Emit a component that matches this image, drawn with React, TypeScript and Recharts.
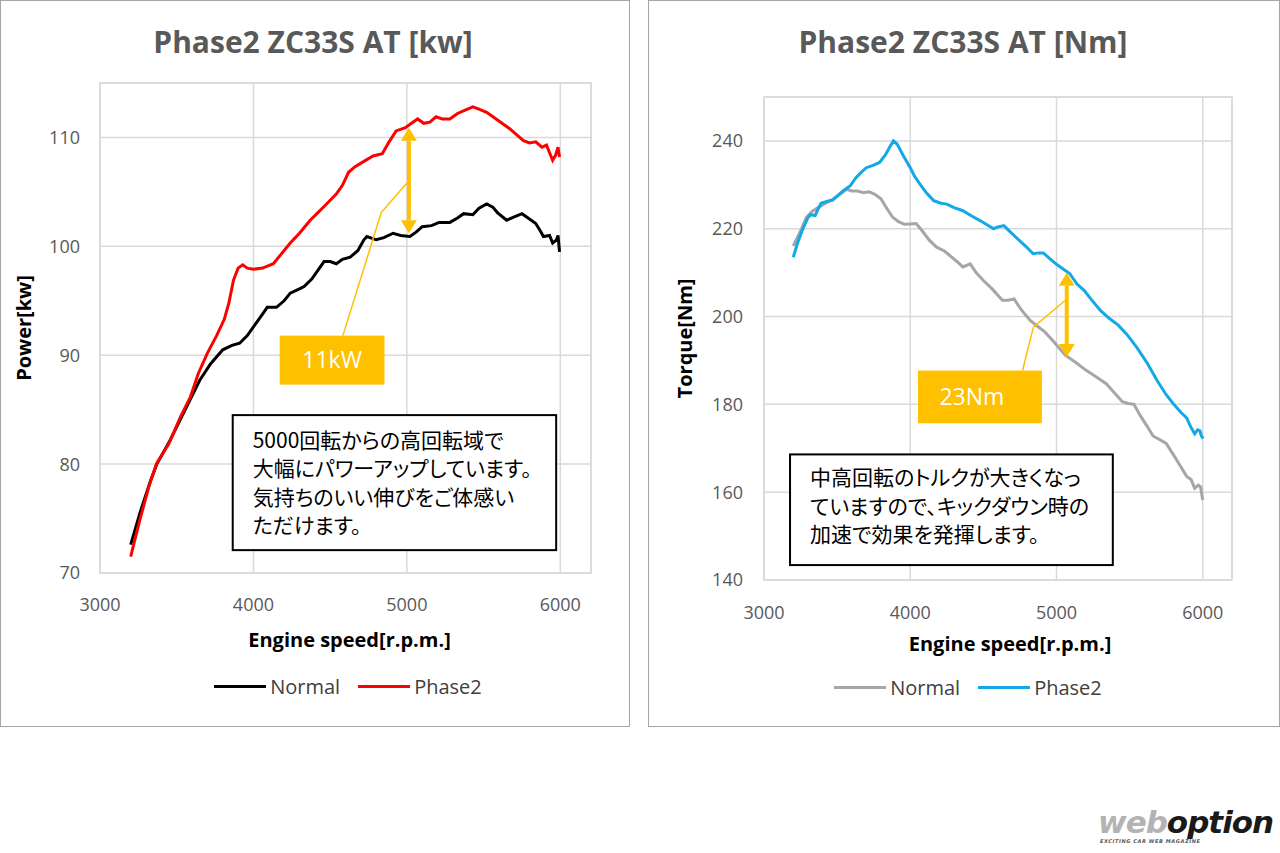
import {
  LineChart,
  Line,
  XAxis,
  YAxis,
  CartesianGrid,
  Legend,
  ReferenceArea,
  ReferenceLine,
} from 'recharts';

const FONT = '"Open Sans", "Noto Sans", sans-serif';
const JP_FONT = '"Noto Sans CJK JP", "Open Sans", sans-serif';
const GRID = '#d9d9d9';
const TICK = '#595959';
const YELLOW = '#ffc000';

const rpmTicks = [3000, 4000, 5000, 6000];
const kwTicks = [70, 80, 90, 100, 110];
const nmTicks = [140, 160, 180, 200, 220, 240];

// power [kW], Normal
const kwNormalRpm = [3200, 3260, 3330, 3370, 3450, 3520, 3590, 3650, 3720, 3800, 3860, 3910, 3960, 4000, 4050, 4090, 4150, 4200, 4240, 4300, 4330, 4380, 4420, 4460, 4500, 4540, 4580, 4630, 4680, 4720, 4740, 4800, 4850, 4910, 4960, 5020, 5060, 5100, 5160, 5210, 5280, 5330, 5370, 5430, 5470, 5520, 5560, 5590, 5650, 5700, 5750, 5790, 5840, 5870, 5890, 5930, 5950, 5975, 5985, 5995];
const kwNormal = [72.6, 75.5, 78.5, 80.0, 82.0, 84.0, 86.0, 87.7, 89.2, 90.5, 90.9, 91.1, 91.8, 92.6, 93.6, 94.4, 94.4, 95.0, 95.7, 96.1, 96.3, 97.0, 97.8, 98.6, 98.6, 98.4, 98.8, 99.0, 99.6, 100.6, 100.9, 100.6, 100.8, 101.2, 101.0, 100.9, 101.3, 101.8, 101.9, 102.2, 102.2, 102.6, 103.0, 102.9, 103.5, 103.9, 103.6, 103.1, 102.4, 102.7, 103.0, 102.6, 102.1, 101.4, 100.9, 101.0, 100.3, 100.6, 101.0, 99.5];

// power [kW], Phase2
const kwPhase2Rpm = [3200, 3260, 3320, 3370, 3450, 3520, 3590, 3640, 3700, 3760, 3810, 3840, 3870, 3900, 3930, 3960, 4000, 4060, 4130, 4170, 4240, 4300, 4370, 4420, 4470, 4540, 4580, 4620, 4660, 4720, 4780, 4840, 4880, 4930, 4990, 5030, 5070, 5110, 5150, 5190, 5230, 5280, 5330, 5380, 5430, 5470, 5520, 5570, 5620, 5670, 5720, 5760, 5800, 5840, 5880, 5910, 5930, 5950, 5970, 5985, 5995];
const kwPhase2 = [71.5, 74.9, 78.0, 80.1, 81.9, 84.2, 86.2, 88.3, 90.2, 91.8, 93.3, 94.8, 96.9, 98.0, 98.3, 98.0, 97.9, 98.0, 98.4, 99.1, 100.3, 101.2, 102.4, 103.1, 103.8, 104.8, 105.6, 106.8, 107.3, 107.8, 108.3, 108.5, 109.5, 110.6, 110.9, 111.3, 111.7, 111.3, 111.4, 111.9, 111.7, 111.7, 112.2, 112.5, 112.8, 112.6, 112.3, 111.8, 111.3, 110.8, 110.2, 109.7, 109.5, 109.6, 109.1, 109.3, 108.6, 107.9, 108.4, 109.1, 108.2];

// torque [Nm], Normal
const nmNormalRpm = [3200, 3250, 3290, 3330, 3370, 3420, 3460, 3510, 3565, 3600, 3640, 3680, 3720, 3760, 3800, 3840, 3880, 3920, 3960, 4000, 4040, 4080, 4130, 4180, 4230, 4270, 4320, 4360, 4410, 4450, 4500, 4560, 4630, 4670, 4710, 4760, 4820, 4870, 4920, 4980, 5060, 5130, 5200, 5270, 5340, 5400, 5450, 5490, 5530, 5570, 5620, 5660, 5710, 5750, 5800, 5850, 5890, 5920, 5945, 5970, 5985, 6000];
const nmNormal = [216.1, 219.5, 222.6, 224.0, 224.8, 225.8, 226.5, 227.6, 229.0, 228.6, 228.6, 228.2, 228.4, 227.8, 226.8, 224.6, 222.6, 221.6, 221.0, 221.1, 221.2, 219.6, 217.4, 215.8, 215.0, 213.9, 212.5, 211.3, 212.0, 210.0, 208.2, 206.3, 203.7, 203.7, 204.0, 201.5, 199.1, 197.8, 196.5, 194.3, 191.2, 189.6, 187.8, 186.3, 184.7, 182.5, 180.6, 180.2, 180.0, 177.6, 175.0, 172.8, 171.9, 171.1, 168.5, 165.8, 163.6, 162.9, 160.9, 161.6, 161.2, 158.2];

// torque [Nm], Phase2
const nmPhase2Rpm = [3200, 3230, 3260, 3300, 3320, 3350, 3370, 3390, 3440, 3470, 3500, 3540, 3590, 3630, 3670, 3700, 3750, 3790, 3830, 3860, 3885, 3910, 3950, 4000, 4030, 4070, 4110, 4160, 4210, 4250, 4300, 4360, 4420, 4480, 4530, 4570, 4600, 4640, 4680, 4740, 4790, 4840, 4880, 4910, 4950, 5000, 5050, 5090, 5140, 5190, 5240, 5300, 5360, 5420, 5480, 5550, 5620, 5690, 5750, 5800, 5850, 5890, 5920, 5945, 5965, 5980, 5990, 6003];
const nmPhase2 = [213.5, 216.8, 219.5, 222.5, 223.2, 223.0, 224.5, 225.8, 226.3, 226.5, 227.4, 228.6, 229.8, 231.7, 233.0, 233.9, 234.5, 235.1, 236.8, 238.6, 240.0, 239.3, 236.8, 233.9, 231.9, 230.0, 228.2, 226.4, 225.8, 225.6, 224.8, 224.1, 222.9, 221.8, 220.8, 220.0, 220.4, 220.7, 219.4, 217.5, 216.0, 214.3, 214.5, 214.5, 213.3, 211.9, 210.7, 209.8, 207.4, 205.9, 203.8, 201.4, 199.6, 198.1, 196.0, 192.9, 189.4, 185.3, 182.2, 180.1, 178.2, 176.9, 174.7, 173.3, 174.2, 174.0, 172.9, 172.2];

const kwNote = ['5000回転からの高回転域で', '大幅にパワーアップしています。', '気持ちのいい伸びをご体感い', 'ただけます。'];
const nmNote = ['中高回転のトルクが大きくなっ', 'ていますので、キックダウン時の', '加速で効果を発揮します。'];

const zip = (xs: number[], ys: number[]) => xs.map((rpm, i) => ({ rpm, v: ys[i] }));

// double headed arrow drawn on a ReferenceLine segment
const arrowShape = (props: any) => {
  const { x1, y1, x2, y2 } = props;
  const top = Math.min(y1, y2);
  const bot = Math.max(y1, y2);
  const h = 13;
  const w = 8;
  return (
    <g>
      <line x1={x1} y1={top + h} x2={x1} y2={bot - h} stroke={YELLOW} strokeWidth={4} />
      <polygon points={`${x1},${top} ${x1 - w},${top + h} ${x1 + w},${top + h}`} fill={YELLOW} />
      <polygon points={`${x1},${bot} ${x1 - w},${bot - h} ${x1 + w},${bot - h}`} fill={YELLOW} />
    </g>
  );
};

const gapBox = (text: string, dx: number) => (props: any) => {
  const { x, y, width, height } = props;
  return (
    <g>
      <rect x={x} y={y} width={width} height={height} fill={YELLOW} />
      <text
        x={x + width / 2 + dx}
        y={y + height / 2 + 8}
        textAnchor="middle"
        fill="#fff"
        fontFamily={FONT}
        fontSize={23}
      >
        {text}
      </text>
    </g>
  );
};

const noteBox = (lines: string[], padX: number, firstY: number, lineH: number) => (props: any) => {
  const { x, y, width, height } = props;
  return (
    <g>
      <rect x={x} y={y} width={width} height={height} fill="#fff" stroke="#000" strokeWidth={2} />
      <text fontFamily={JP_FONT} fontSize={21} fill="#000" style={{ fontFeatureSettings: '"palt"' }}>
        {lines.map((l, i) => (
          <tspan key={i} x={x + padX} y={y + firstY + i * lineH}>
            {l}
          </tspan>
        ))}
      </text>
    </g>
  );
};

const legendContent = (props: any) => (
  <div style={{ display: 'flex', justifyContent: 'center', gap: 18, fontFamily: FONT, fontSize: 20, color: '#404040' }}>
    {(props.payload || []).map((p: any) => (
      <div key={p.value} style={{ display: 'flex', alignItems: 'center' }}>
        <span style={{ display: 'inline-block', width: 52, height: 3, background: p.color, marginRight: 4 }} />
        {p.value}
      </div>
    ))}
  </div>
);

const tickStyle = { fontSize: 18, fill: TICK, fontFamily: FONT };
const axisTitle = { fontSize: 20, fontWeight: 700, fill: '#000', fontFamily: FONT };

function Panel({ left, width, title, titleX }: { left: number; width: number; title: string; titleX: number }) {
  return (
    <>
      <div
        style={{
          position: 'absolute',
          left,
          top: 0,
          width,
          height: 727,
          border: '1px solid #a6a6a6',
          boxSizing: 'border-box',
        }}
      />
      <div
        style={{
          position: 'absolute',
          left: titleX - 250,
          width: 500,
          top: 22,
          textAlign: 'center',
          fontFamily: FONT,
          fontWeight: 700,
          fontSize: 30,
          lineHeight: '40px',
          color: '#595959',
        }}
      >
        {title}
      </div>
    </>
  );
}

function PowerChart() {
  return (
    <div style={{ position: 'absolute', left: 0, top: 0 }}>
      <LineChart width={630} height={726} margin={{ top: 83, right: 39, bottom: 123, left: 0 }}>
        <CartesianGrid stroke={GRID} strokeWidth={1.5} />
        <ReferenceArea x1={3000} x2={6200} y1={70} y2={115} fill="none" stroke={GRID} strokeWidth={1.5} />
        <XAxis
          type="number"
          dataKey="rpm"
          domain={[3000, 6200]}
          ticks={rpmTicks}
          allowDataOverflow
          axisLine={false}
          tickLine={false}
          tickMargin={19}
          height={30}
          tick={tickStyle}
          label={{ value: 'Engine speed[r.p.m.]', position: 'bottom', offset: 30, dx: 4, style: axisTitle }}
        />
        <YAxis
          type="number"
          domain={[70, 115]}
          ticks={kwTicks}
          allowDataOverflow
          axisLine={false}
          tickLine={false}
          tickMargin={14}
          width={100}
          tick={tickStyle}
          label={{ value: 'Power[kw]', angle: -90, position: 'insideLeft', offset: 24, style: { ...axisTitle, textAnchor: 'middle' } }}
        />
        <Line data={zip(kwNormalRpm, kwNormal)} dataKey="v" name="Normal" stroke="#000" strokeWidth={3} dot={false} isAnimationActive={false} />
        <Line data={zip(kwPhase2Rpm, kwPhase2)} dataKey="v" name="Phase2" stroke="#ff0000" strokeWidth={3} dot={false} isAnimationActive={false} />
        <ReferenceLine segment={[{ x: 5013, y: 110.9 }, { x: 5013, y: 101.2 }]} shape={arrowShape} />
        <ReferenceLine segment={[{ x: 5006, y: 105.9 }, { x: 4833, y: 103.1 }]} stroke={YELLOW} strokeWidth={1.5} />
        <ReferenceLine segment={[{ x: 4833, y: 103.1 }, { x: 4583, y: 91.8 }]} stroke={YELLOW} strokeWidth={1.5} />
        <ReferenceArea x1={4171} x2={4854} y1={87.3} y2={91.8} shape={gapBox('11kW', 0)} />
        <ReferenceArea x1={3865} x2={5973} y1={72.1} y2={84.5} shape={noteBox(kwNote, 20, 33, 28.3)} />
        <Legend
          layout="horizontal"
          verticalAlign="middle"
          align="center"
          content={legendContent}
          wrapperStyle={{ left: 100, top: 673, width: 496 }}
        />
      </LineChart>
    </div>
  );
}

function TorqueChart() {
  return (
    <div style={{ position: 'absolute', left: 648, top: 0 }}>
      <LineChart width={632} height={726} margin={{ top: 97, right: 48, bottom: 116, left: 0 }}>
        <CartesianGrid stroke={GRID} strokeWidth={1.5} />
        <ReferenceArea x1={3000} x2={6200} y1={140} y2={250} fill="none" stroke={GRID} strokeWidth={1.5} />
        <XAxis
          type="number"
          dataKey="rpm"
          domain={[3000, 6200]}
          ticks={rpmTicks}
          allowDataOverflow
          axisLine={false}
          tickLine={false}
          tickMargin={20}
          height={30}
          tick={tickStyle}
          label={{ value: 'Engine speed[r.p.m.]', position: 'bottom', offset: 27, dx: 12, style: axisTitle }}
        />
        <YAxis
          type="number"
          domain={[140, 250]}
          ticks={nmTicks}
          allowDataOverflow
          axisLine={false}
          tickLine={false}
          tickMargin={15}
          width={116}
          tick={tickStyle}
          label={{ value: 'Torque[Nm]', angle: -90, position: 'insideLeft', offset: 37, style: { ...axisTitle, textAnchor: 'middle' } }}
        />
        <Line data={zip(nmNormalRpm, nmNormal)} dataKey="v" name="Normal" stroke="#a6a6a6" strokeWidth={3} dot={false} isAnimationActive={false} />
        <Line data={zip(nmPhase2Rpm, nmPhase2)} dataKey="v" name="Phase2" stroke="#14a8e6" strokeWidth={3} dot={false} isAnimationActive={false} />
        <ReferenceLine segment={[{ x: 5070, y: 210 }, { x: 5070, y: 190.8 }]} shape={arrowShape} />
        <ReferenceLine segment={[{ x: 5057, y: 203.6 }, { x: 4842, y: 197.6 }]} stroke={YELLOW} strokeWidth={1.5} />
        <ReferenceLine segment={[{ x: 4842, y: 197.6 }, { x: 4768, y: 187.7 }]} stroke={YELLOW} strokeWidth={1.5} />
        <ReferenceArea x1={4053} x2={4900} y1={175.7} y2={187.7} shape={gapBox('23Nm', -8)} />
        <ReferenceArea x1={3178} x2={5385} y1={143.4} y2={168.6} shape={noteBox(nmNote, 20, 31, 28.3)} />
        <Legend
          layout="horizontal"
          verticalAlign="middle"
          align="center"
          content={legendContent}
          wrapperStyle={{ left: 120, top: 674, width: 400 }}
        />
      </LineChart>
    </div>
  );
}

export default function App() {
  return (
    <div style={{ position: 'absolute', left: 0, top: 0, width: 1280, height: 853, background: '#fff', overflow: 'hidden' }}>
      <Panel left={0} width={630} title="Phase2 ZC33S AT [kw]" titleX={313} />
      <Panel left={648} width={632} title="Phase2 ZC33S AT [Nm]" titleX={963} />
      <PowerChart />
      <TorqueChart />
      <div style={{ position: 'absolute', left: 1098, top: 807, fontFamily: '"DejaVu Sans", sans-serif', fontWeight: 900, fontStyle: 'italic', fontSize: 31, letterSpacing: -1, lineHeight: '30px', whiteSpace: 'nowrap' }}>
        <span style={{ color: '#b3b3b3' }}>web</span>
        <span style={{ color: '#1a1a1a' }}>option</span>
      </div>
      <div style={{ position: 'absolute', left: 1100, top: 838, fontFamily: '"DejaVu Sans", sans-serif', fontWeight: 700, fontStyle: 'italic', fontSize: 5, letterSpacing: 0.6, color: '#555', lineHeight: '6px', whiteSpace: 'nowrap' }}>
        EXCITING CAR WEB MAGAZINE
      </div>
    </div>
  );
}
